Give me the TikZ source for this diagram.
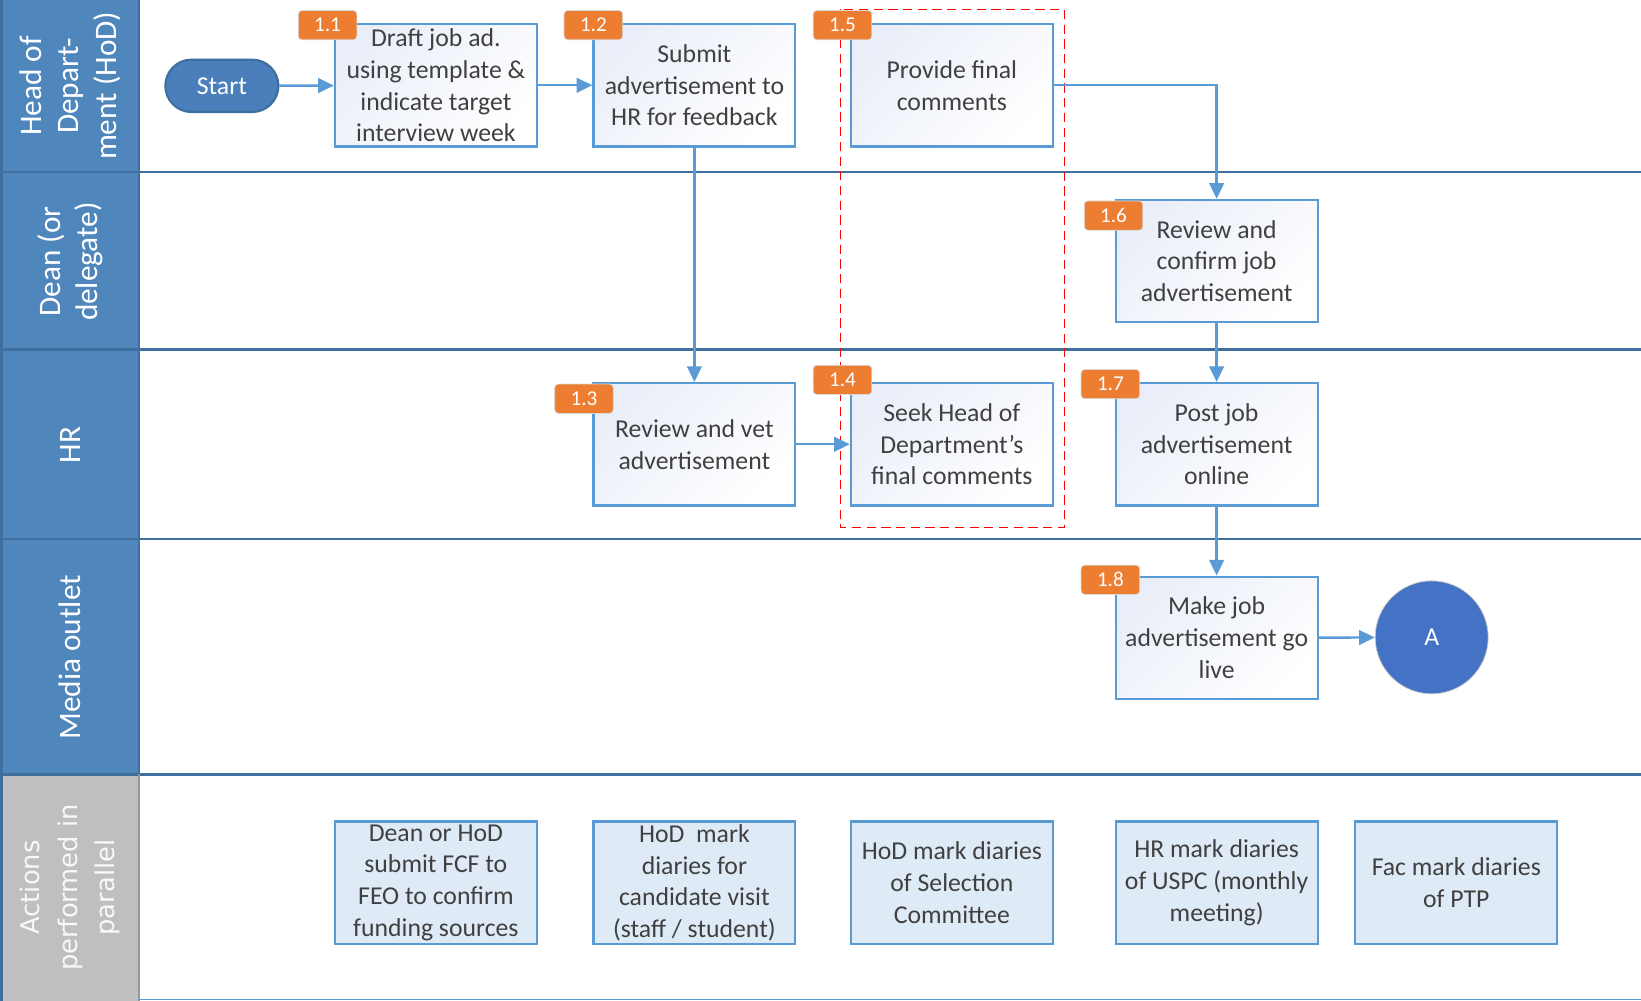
\documentclass[tikz,border=0pt]{standalone}
\usepackage{fontspec}
\setmainfont{Carlito}
\newfontfamily\actfont{DejaVu Sans}
\usetikzlibrary{arrows.meta}

\definecolor{hdrblue}{HTML}{4F87BD}
\definecolor{hdrline}{HTML}{3F6F9E}
\definecolor{hdrgray}{HTML}{BFBFBF}
\definecolor{boxline}{HTML}{5B9BD5}
\definecolor{boxtint}{HTML}{E9EEF8}
\definecolor{parfill}{HTML}{DEEAF6}
\definecolor{textgray}{HTML}{404040}
\definecolor{badgeorange}{HTML}{ED7D31}
\definecolor{badgeedge}{HTML}{D9D9D9}
\definecolor{startblue}{HTML}{4A7FBC}
\definecolor{endblue}{HTML}{4472C4}

\tikzset{
  laneline/.style={draw=hdrline, line width=1.2pt},
  lanelabel/.style={rotate=90, align=center, text=white, font=\fontsize{17}{20.5}\selectfont},
  task/.style={draw=boxline, line width=1.2pt, top color=boxtint, bottom color=white,
    shading angle=45, minimum width=3.86cm,
    minimum height=2.34cm, align=center, text=textgray, inner sep=1pt,
    font=\fontsize{14}{17.3}\selectfont},
  partask/.style={task, fill=parfill, top color=parfill, bottom color=parfill},
  badge/.style={fill=badgeorange, draw=badgeedge, rounded corners=2pt, text=white,
    minimum width=1.12cm, minimum height=0.56cm, inner sep=0pt,
    font=\fontsize{11.5}{13}\selectfont},
  flow/.style={draw=boxline, line width=1.3pt, -{Triangle[length=0.3cm, width=0.28cm]}}
}

\begin{document}
\begin{tikzpicture}[x=0.02cm, y=-0.02cm]
  \useasboundingbox (0,0) rectangle (1568,956);
  % swimlane headers
  \fill[hdrblue] (0,0) rectangle (133,740);
  \fill[hdrgray] (0,740) rectangle (133,956);
  \foreach \y in {164,334,515,740}
    \draw[laneline] (0,\y) -- (1568,\y);
  \draw[laneline] (1.5,0) -- (1.5,956);
  \draw[laneline] (133,0) -- (133,740);
  \draw[draw=gray!80, line width=1.2pt] (133,740) -- (133,956);
  \draw[draw=boxline, line width=0.6pt] (133,955) -- (1568,955);
  \node[lanelabel] (lhod) at (67,82) {Head of\\Depart-\\ment (HoD)};
  \node[lanelabel] (ldean) at (67,250) {Dean (or\\delegate)};
  \node[lanelabel] (lhr) at (67,425) {HR};
  \node[lanelabel] (lmedia) at (67,628) {Media outlet};
  \node[lanelabel, text=white!95!gray, font=\actfont\fontsize{14}{20.5}\selectfont]
    (lpar) at (67,848) {Actions\\performed in\\parallel};

  % group of steps 1.4 and 1.5
  \draw[red, line width=0.7pt, dash pattern=on 5pt off 3pt] (803,9) rectangle (1017,504);

  % steps
  \node[draw=hdrline, line width=1.2pt, fill=startblue, rounded corners=0.5cm,
    minimum width=2.16cm, minimum height=1.0cm, text=white,
    font=\fontsize{14}{17}\selectfont] (start) at (212,82) {Start};
  \node[task] (b11) at (416.5,81.5) {Draft job ad.\\using template \&\\indicate target\\interview week};
  \node[task] (b12) at (663.5,81.5) {Submit\\advertisement to\\HR for feedback};
  \node[task] (b15) at (909.5,81.5) {Provide final\\comments};
  \node[task] (b16) at (1162.5,249.5) {Review and\\confirm job\\advertisement};
  \node[task] (b13) at (663.5,424.5) {Review and vet\\advertisement};
  \node[task] (b14) at (909.5,424.5) {Seek Head of\\Department’s\\final comments};
  \node[task] (b17) at (1162.5,424.5) {Post job\\advertisement\\online};
  \node[task] (b18) at (1162.5,609.5) {Make job\\advertisement go\\live};
  \node[circle, fill=endblue, draw=gray!40, minimum size=2.16cm, text=white,
    font=\fontsize{14}{17}\selectfont] (A) at (1368,609) {A};

  % step numbers
  \node[badge] (n11) at (313,24) {1.1};
  \node[badge] (n12) at (567,24) {1.2};
  \node[badge] (n15) at (805,24) {1.5};
  \node[badge] (n16) at (1064,206) {1.6};
  \node[badge] (n13) at (558,381) {1.3};
  \node[badge] (n14) at (805,363) {1.4};
  \node[badge] (n17) at (1061,367) {1.7};
  \node[badge] (n18) at (1061,554) {1.8};

  % flow
  \draw[flow] (start) -- (b11);
  \draw[flow] (b11) -- (b12);
  \draw[flow] (b12) -- (b13);
  \draw[flow] (b13) -- (b14);
  \draw[flow] (b15) -| (b16);
  \draw[flow] (b16) -- (b17);
  \draw[flow] (b17) -- (b18);
  \draw[flow] (b18) -- (A);

  % actions in parallel
  \node[partask] (p1) at (416.5,843.5) {Dean or HoD\\submit FCF to\\FEO to confirm\\funding sources};
  \node[partask] (p2) at (663.5,843.5) {HoD\ \ mark\\diaries for\\candidate visit\\(staff / student)};
  \node[partask] (p3) at (909.5,843.5) {HoD mark diaries\\of Selection\\Committee};
  \node[partask] (p4) at (1162.5,843.5) {HR mark diaries\\of USPC (monthly\\meeting)};
  \node[partask] (p5) at (1391.5,843.5) {Fac mark diaries\\of PTP};
\end{tikzpicture}
\end{document}
